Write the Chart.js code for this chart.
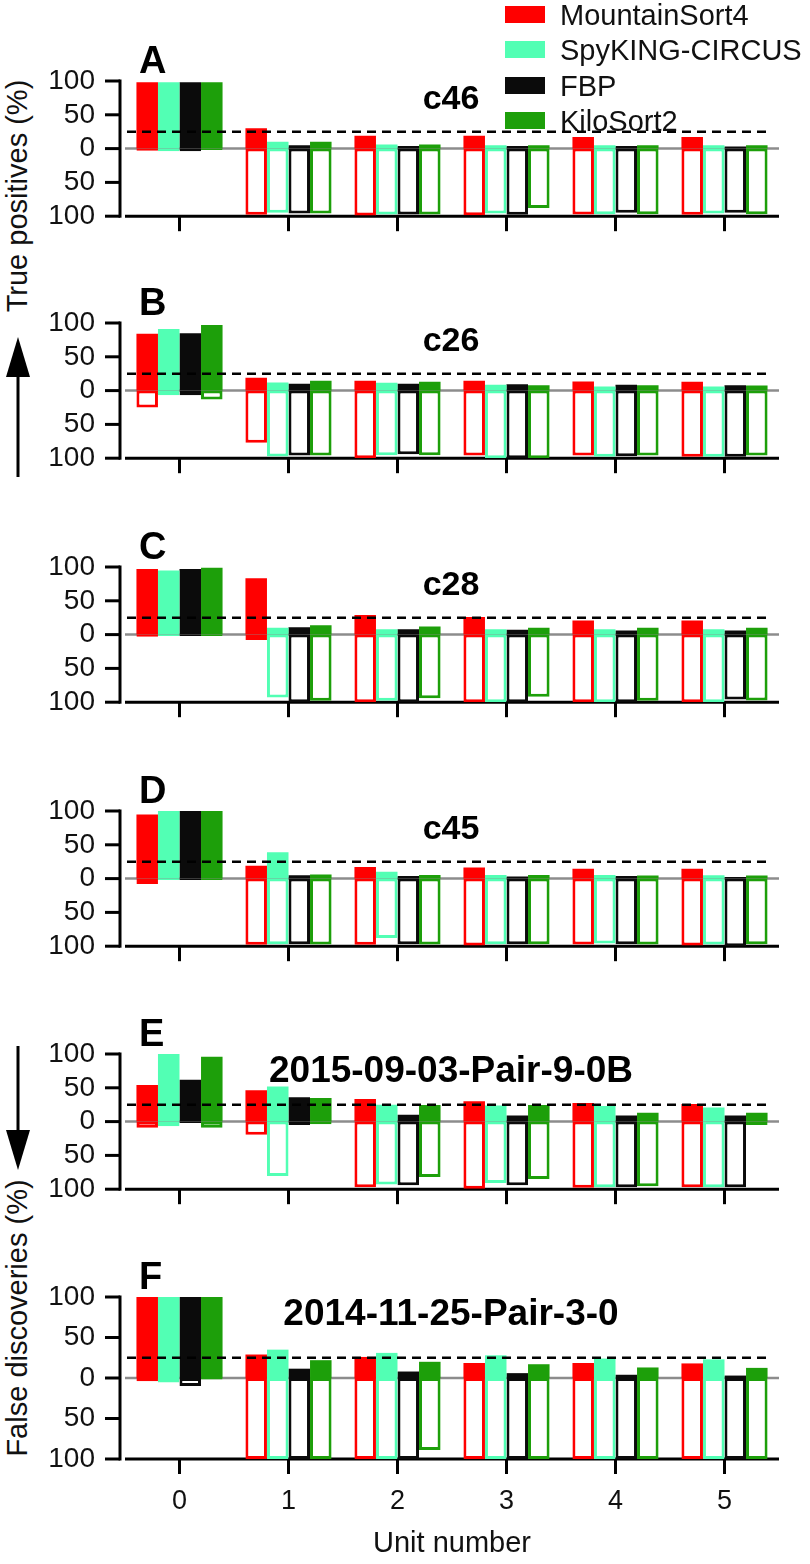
<!DOCTYPE html>
<html>
<head>
<meta charset="utf-8">
<title>Unit accuracy per sorter</title>
<script src="https://cdn.jsdelivr.net/npm/chart.js@4.4.1/dist/chart.umd.min.js"></script>
<style>
  html, body { margin: 0; padding: 0; background: #fff; }
  #fig {
    position: relative; width: 810px; height: 1564px; overflow: hidden;
    font-family: 'Liberation Sans', Arial, sans-serif; color: #111;
  }
  #fig canvas { position: absolute; left: 0; }
  .ytitle {
    position: absolute; left: 17px; font-size: 29px; line-height: 1; white-space: nowrap;
    transform: translate(-50%, -50%) rotate(-90deg);
  }
  #legend { position: absolute; left: 505px; top: 6px; z-index: 2; }
  .leg-row { position: relative; height: 35.3px; }
  .leg-box { position: absolute; left: 0; top: 0; width: 40px; height: 17px; }
  .leg-text { position: absolute; left: 55px; top: -5px; font-size: 29px; line-height: 1; white-space: nowrap; }
  svg.arrow { position: absolute; left: 0; }
</style>
</head>
<body>
<div id="fig">
  <div id="legend"></div>
  <div class="ytitle" style="top:196px">True positives (%)</div>
  <div class="ytitle" style="top:1318px">False discoveries (%)</div>
  <svg class="arrow" style="top:330px" width="36" height="150">
    <line x1="18" y1="46" x2="18" y2="147" stroke="#000" stroke-width="3"/>
    <polygon points="6,47 30,47 18,7" fill="#000"/>
  </svg>
  <svg class="arrow" style="top:1040px" width="36" height="140">
    <line x1="18" y1="6" x2="18" y2="91" stroke="#000" stroke-width="3"/>
    <polygon points="6,90 30,90 18,130" fill="#000"/>
  </svg>
</div>

<script>
'use strict';

// ── DATA ──────────────────────────────────────────────────────
const units   = ['0', '1', '2', '3', '4', '5'];
const sorters = ['MountainSort4', 'SpyKING-CIRCUS', 'FBP', 'KiloSort2'];
const sorterColors = ['#ff0000', '#52ffb4', '#0b0b0b', '#1d9f0a'];

const panelLetters = ['A', 'B', 'C', 'D', 'E', 'F'];
const panelTitles  = ['c46', 'c26', 'c28', 'c45', '2015-09-03-Pair-9-0B', '2014-11-25-Pair-3-0'];
const threshold = 25;

// rows = sorters (MS4, SC, FBP, KS2), columns = unit number
const tpA = [
  [98, 30, 19, 19, 17, 17],
  [98, 10, 6, 5, 5, 5],
  [98, 5, 4, 4, 4, 3],
  [98, 10, 6, 5, 5, 5],
];
const fdA = [
  [3, 98, 99, 98.5, 97.5, 98],
  [4, 95, 97.5, 96, 97, 96],
  [4, 96, 97.5, 98, 95, 95],
  [2, 96, 97.5, 88, 97, 97],
];

const tpB = [
  [84, 19, 14.5, 14.5, 13.5, 13],
  [91, 12, 11.5, 8.5, 6, 6],
  [85, 10, 10, 9.5, 8.5, 8],
  [97, 14.5, 13, 8, 8, 7.5],
];
const fdB = [
  [25, 77, 100, 96, 96, 98],
  [7, 97.5, 95.5, 100, 98, 98],
  [7, 96, 94, 100, 97, 98],
  [13, 96, 95.5, 100, 96, 96],
];

const tpC = [
  [97, 83.5, 29, 26, 21, 21],
  [95, 10, 8, 8, 8, 8],
  [97, 11, 8, 7, 6, 6],
  [99, 14, 12, 10, 10, 10],
];
const fdC = [
  [3, 8, 100, 100, 100, 100],
  [2, 93, 98, 100, 100, 100],
  [2, 100, 100, 100, 100, 96],
  [2, 98, 94, 92, 98, 97.5],
];

const tpD = [
  [95, 19, 17, 16.5, 14.5, 14.5],
  [100, 39, 10, 5.5, 5.5, 5],
  [100, 5, 4, 3, 4, 2.5],
  [100, 6, 5.5, 5.5, 4.5, 4.5],
];
const fdD = [
  [8, 98, 98, 99, 97.5, 99],
  [2, 97, 88, 97, 96, 97.5],
  [2, 97, 97, 97, 97, 100],
  [2, 97.5, 97.5, 97, 97.5, 97],
];

const tpE = [
  [54, 46.5, 33.5, 30, 27.5, 26],
  [100, 52, 25, 24, 23, 21],
  [62, 36, 10, 9, 9, 9],
  [96, 35, 24.5, 24.5, 13, 13],
];
const fdE = [
  [9, 19.5, 97, 99.5, 98, 97],
  [7, 80.5, 93, 91, 97, 97],
  [2, 5, 94, 94, 97, 97],
  [9, 4, 82, 85, 95.5, 5],
];

const tpF = [
  [100, 29, 26, 18.5, 18.5, 18],
  [100, 35, 31, 28, 24, 23],
  [100, 11.5, 8, 6, 4, 3],
  [100, 22, 20, 17, 13, 12.5],
];
const fdF = [
  [4, 100, 100, 100, 100, 100],
  [5.5, 100, 100, 100, 100, 100],
  [10, 100, 100, 100, 100, 100],
  [2, 100, 89, 100, 100, 100],
];

const truePos  = [tpA, tpB, tpC, tpD, tpE, tpF];
const falseDis = [fdA, fdB, fdC, fdD, fdE, fdF];

// ── LAYOUT ────────────────────────────────────────────────────
const PANEL_TOPS  = [81, 323, 567, 811, 1054, 1297];
const PLOT_H      = 162;
const HEAD        = 60;
const TITLE_SIZES = [34, 34, 34, 34, 37, 37];

Chart.defaults.font.family = "'Liberation Sans', Arial, sans-serif";
Chart.defaults.color = '#111';

// ── AXES, THRESHOLD AND LABELS ────────────────────────────────
const panelDecor = {
  id: 'panelDecor',
  beforeDatasetsDraw(chart) {
    const { ctx, chartArea: a, scales: { x, y } } = chart;
    const seg = (x1, y1, x2, y2) => { ctx.beginPath(); ctx.moveTo(x1, y1); ctx.lineTo(x2, y2); ctx.stroke(); };
    ctx.save();
    // zero line
    ctx.strokeStyle = '#8c8c8c';
    ctx.lineWidth = 2.5;
    seg(a.left, y.getPixelForValue(0), a.right, y.getPixelForValue(0));
    // x axis
    ctx.strokeStyle = '#000';
    ctx.lineWidth = 3;
    seg(a.left, a.bottom, a.right, a.bottom);
    units.forEach((_, i) => {
      const px = x.getPixelForValue(i);
      seg(px, a.bottom, px, a.bottom + 15);
    });
    // y spine, offset from the x axis
    const sx = a.left - 5;
    ctx.lineCap = 'square';
    seg(sx, y.getPixelForValue(100), sx, y.getPixelForValue(-100));
    ctx.lineCap = 'butt';
    y.ticks.forEach(t => {
      const py = y.getPixelForValue(t.value);
      seg(sx - 15, py, sx, py);
    });
    ctx.restore();
  },
  afterDatasetsDraw(chart, args, opts) {
    const { ctx, chartArea: a, scales: { y } } = chart;
    ctx.save();
    ctx.strokeStyle = '#000';
    ctx.lineWidth = 2.5;
    ctx.setLineDash([9, 6]);
    const py = y.getPixelForValue(threshold);
    ctx.beginPath(); ctx.moveTo(a.left + 2, py); ctx.lineTo(a.right - 8, py); ctx.stroke();
    ctx.setLineDash([]);

    ctx.fillStyle = '#000';
    ctx.textBaseline = 'alphabetic';
    ctx.textAlign = 'left';
    ctx.font = "bold 38px 'Liberation Sans', Arial, sans-serif";
    ctx.fillText(opts.letter, 139, a.top - 8);

    ctx.textAlign = 'center';
    ctx.font = `bold ${opts.titleSize}px 'Liberation Sans', Arial, sans-serif`;
    ctx.fillText(opts.title, 451, a.top + 28);
    ctx.restore();
  },
};

// ── BUILD ─────────────────────────────────────────────────────
const fig = document.getElementById('fig');

function buildLegend() {
  const box = document.getElementById('legend');
  sorters.forEach((name, s) => {
    const row = document.createElement('div');
    row.className = 'leg-row';
    row.innerHTML = `<div class="leg-box" style="background:${sorterColors[s]}"></div>` +
                    `<div class="leg-text">${name}</div>`;
    box.appendChild(row);
  });
}

function makePanel(i) {
  const last  = i === panelLetters.length - 1;
  const axisH = last ? 1564 - (PANEL_TOPS[i] + PLOT_H) : 20;

  const canvas = document.createElement('canvas');
  canvas.width  = 810;
  canvas.height = HEAD + PLOT_H + axisH;
  canvas.style.top = (PANEL_TOPS[i] - HEAD) + 'px';
  fig.appendChild(canvas);

  // outlined false-discovery bar first so it is painted over its filled partner
  const datasets = [];
  sorters.forEach((name, s) => {
    datasets.push({
      label: name + ' false discoveries',
      data: falseDis[i][s].map(v => -v),
      stack: 's' + s,
      backgroundColor: '#ffffff',
      borderColor: sorterColors[s],
      borderWidth: 3,
      borderSkipped: false,
    });
    datasets.push({
      label: name,
      data: truePos[i][s],
      stack: 's' + s,
      backgroundColor: sorterColors[s],
      borderWidth: 0,
    });
  });

  new Chart(canvas, {
    type: 'bar',
    data: { labels: units, datasets },
    options: {
      responsive: false,
      animation: false,
      layout: { padding: { top: HEAD, right: 31, left: 0, bottom: 0 } },
      datasets: { bar: { categoryPercentage: 0.79, barPercentage: 1 } },
      scales: {
        x: {
          grid: { display: false, drawTicks: false },
          border: { display: false },
          ticks: { display: last, padding: 26, font: { size: 27 } },
          title: {
            display: last, text: 'Unit number',
            font: { size: 29 }, padding: { top: 0, bottom: 3 },
          },
          afterFit: s => { s.height = axisH; },
        },
        y: {
          stacked: true,
          min: -100,
          max: 100,
          grid: { display: false, drawTicks: false },
          border: { display: false },
          ticks: { stepSize: 50, padding: 30, font: { size: 28 }, callback: v => Math.abs(v) },
          afterFit: s => { s.width = 125; },
        },
      },
      plugins: {
        legend: { display: false },
        tooltip: { enabled: false },
        panelDecor: { letter: panelLetters[i], title: panelTitles[i], titleSize: TITLE_SIZES[i] },
      },
    },
    plugins: [panelDecor],
  });
}

buildLegend();
panelLetters.forEach((_, i) => makePanel(i));
</script>
</body>
</html>
